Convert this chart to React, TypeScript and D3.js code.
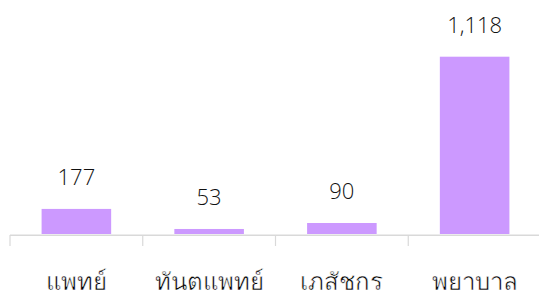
import React from "react";
import * as d3 from "d3";

const categories = ["แพทย์", "ทันตแพทย์", "เภสัชกร", "พยาบาล"];
const values = [177, 53, 90, 1118];
const valueLabels = ["177", "53", "90", "1,118"];

const W = 539;
const H = 294;

export default function App() {
  const x = d3.scaleBand<string>().domain(categories).range([10, 541]).paddingInner(0.476).paddingOuter(0.238);
  const band = d3.scaleBand<string>().domain(categories).range([10, 541]);
  const y = d3.scaleLinear().domain([22, 1118]).range([234, 56.7]);
  return (
    <svg width={W} height={H} style={{ position: "absolute", left: 0, top: 0 }}>
      <rect width={W} height={H} fill="#fff" />
      {categories.map((c, i) => (
        <rect key={c} x={x(c)} y={y(values[i])} width={x.bandwidth()} height={y(22) - y(values[i])} fill="#CC99FF" />
      ))}
      <line x1={10} x2={541} y1={235.2} y2={235.2} stroke="#d9d9d9" strokeWidth={1.5} />
      {categories.concat(["end"]).map((c, i) => {
        const tx = 10 + i * band.bandwidth();
        return <line key={i} x1={tx} x2={tx} y1={235} y2={246} stroke="#d9d9d9" strokeWidth={1.2} />;
      })}
      {categories.map((c, i) => (
        <text key={c} x={x(c)! + x.bandwidth() / 2} y={y(values[i]) - 23.5} textAnchor="middle"
          fontFamily="Open Sans, Noto Sans, sans-serif" fontWeight={300} fontSize={22} fill="#111">
          {valueLabels[i]}
        </text>
      ))}
      {categories.map((c) => (
        <text key={c} x={x(c)! + x.bandwidth() / 2} y={290} textAnchor="middle"
          fontFamily="sans-serif" fontSize={24} fill="#000" stroke="#fff" strokeWidth={0.5}>
          {c}
        </text>
      ))}
    </svg>
  );
}
